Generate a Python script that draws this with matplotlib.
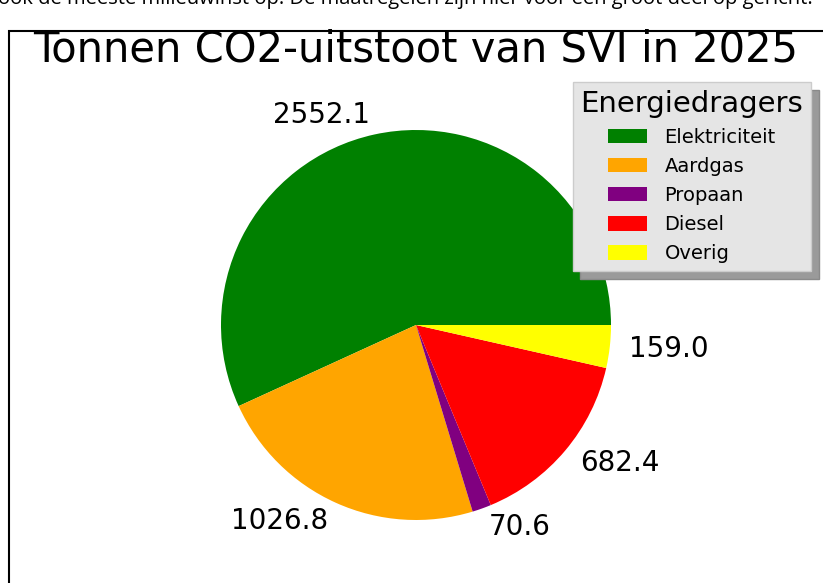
import matplotlib.pyplot as plt
from matplotlib.patches import Rectangle

labels = ["Elektriciteit", "Aardgas", "Propaan", "Diesel", "Overig"]
values = [2552.1, 1026.8, 70.6, 682.4, 159.0]
colors = ["green", "orange", "purple", "red", "yellow"]
value_labels = ["%.1f" % v for v in values]

W, H = 823, 583
fig = plt.figure(figsize=(W / 100, H / 100), dpi=100)

# cut-off line of document text above the chart
fig.text(-0.002, 1 - 4 / H, "ook de meeste milieuwinst op. De maatregelen zijn hier voor een groot deel op gericht.",
         fontsize=14.5, family="Open Sans", va="baseline", ha="left")

# chart frame (continues past the crop)
fig.patches.append(Rectangle((9 / W, -0.05), 1.1, 1 - 31 / H + 0.05, transform=fig.transFigure,
                             fill=False, edgecolor="black", linewidth=1.5, clip_on=False))

# pie: center (416, 325) px, radius 195 px
r = 195
cx, cy = 416, H - 325
ax = fig.add_axes([(cx - 2 * r) / W, (cy - 1.3 * r) / H, 4 * r / W, 2.6 * r / H])
wedges, texts = ax.pie(values, labels=value_labels, colors=colors, startangle=0,
                       labeldistance=1.1, textprops={"fontsize": 20})
ax.set_xlim(-2, 2)
ax.set_ylim(-1.3, 1.3)
ax.axis("off")

fig.text(416 / W, 1 - 50 / H, "Tonnen CO2-uitstoot van SVI in 2025", fontsize=30,
         ha="center", va="center")

leg = fig.legend(wedges, labels, title="Energiedragers", loc="upper right",
                 bbox_to_anchor=(811 / W, 1 - 82 / H), bbox_transform=fig.transFigure,
                 borderaxespad=0, fontsize=14, title_fontsize=21, fancybox=False,
                 shadow={"ox": 5.5, "oy": -5.5, "facecolor": "#9a9a9a",
                         "edgecolor": "#8a8a8a", "alpha": 1},
                 labelspacing=0.52, handletextpad=0.9, handleheight=0.75)
leg.get_frame().set_facecolor("#e5e5e5")
leg.get_frame().set_edgecolor("#cccccc")
leg.get_frame().set_alpha(1)

fig.savefig("out.png", dpi=100, facecolor="white")
